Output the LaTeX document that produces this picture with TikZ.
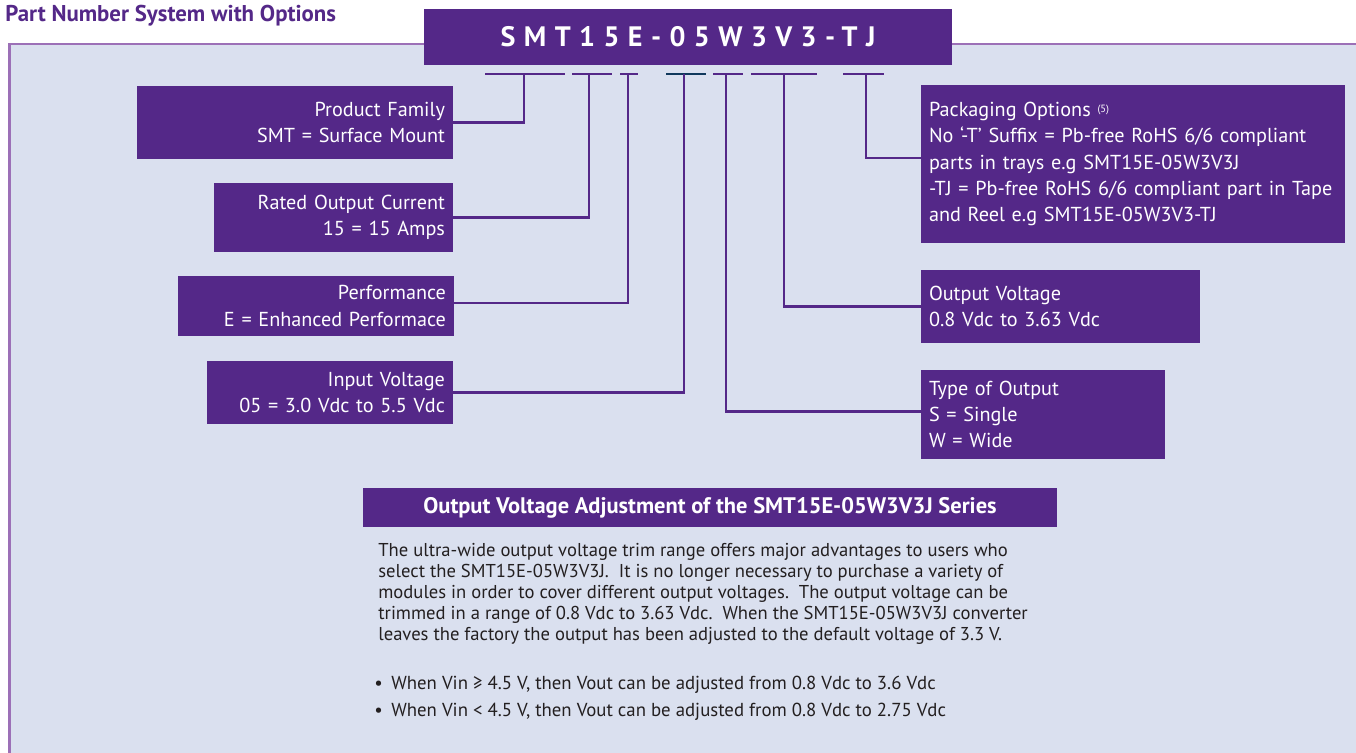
\documentclass[tikz,border=0pt]{standalone}
\usepackage{fontspec}
\setmainfont{PT Sans}
\newfontfamily\pnfont[LetterSpace=30]{PT Sans}

\definecolor{boxpurple}{RGB}{84,40,136}
\definecolor{panelfill}{RGB}{218,224,239}
\definecolor{panelline}{RGB}{156,112,183}
\definecolor{darkbar}{RGB}{16,56,92}
\definecolor{bodytext}{RGB}{35,31,32}

\begin{document}
\begin{tikzpicture}[
			x=0.02cm, y=-0.02cm,
			box/.style={fill=boxpurple, text=white, inner xsep=0.16cm, inner ysep=0pt, font=\fontsize{11.5}{15}\selectfont},
			lbox/.style={box, align=right},
			rbox/.style={box, align=left},
			link/.style={draw=boxpurple, line width=1.4pt},
			bar/.style={line width=1.6pt}
		]
		\useasboundingbox (0,0) rectangle (1356,753);

		% Panel
		\draw[draw=panelline, fill=panelfill, line width=1.7pt] (9.5,44) rectangle (1420,820);

		% Title
		\node[anchor=base west, inner sep=0pt, text=boxpurple, font=\fontsize{13}{15}\selectfont\bfseries] (title) at (5,22) {Part Number System with Options};

		% Part number
		\node[fill=boxpurple, text=white, minimum width=10.58cm, minimum height=1.12cm, font=\pnfont\fontsize{16}{18}\selectfont\bfseries] (pn) at (688,37) {SMT15E-05W3V3-TJ};

		% Bars under the part number
		\foreach \a/\b/\c in {485/565/boxpurple, 572/612/boxpurple, 620/638/boxpurple, 666/706/darkbar, 713/743/boxpurple, 751/817/boxpurple, 843/884/boxpurple}
			\draw[bar, draw=\c] (\a,74) -- (\b,74);
		\coordinate (t1) at (524,74);
		\coordinate (t2) at (589,74);
		\coordinate (t3) at (628,74);
		\coordinate (t4) at (684,74);
		\coordinate (t5) at (726,74);
		\coordinate (t6) at (784,74);
		\coordinate (t7) at (866,74);

		% Left boxes
		\node[lbox, text width=6.0cm, minimum height=1.46cm] (pf) at (295,122.5) {Product Family\\SMT = Surface Mount};
		\node[lbox, text width=4.46cm, minimum height=1.38cm] (roc) at (333.5,217.5) {Rated Output Current\\15 = 15 Amps};
		\node[lbox, text width=5.2cm, minimum height=1.2cm] (perf) at (316,306) {Performance\\E = Enhanced Performace};
		\node[lbox, text width=4.6cm, minimum height=1.26cm] (vin) at (330,392.5) {Input Voltage\\05 = 3.0 Vdc to 5.5 Vdc};

		% Right boxes
		\node[rbox, text width=8.16cm, minimum height=3.16cm] (pkg) at (1133,164) {Packaging Options {\fontsize{6}{6}\selectfont\raisebox{0.7ex}{(5)}}\\No ‘-T’ Suffix = Pb-free RoHS 6/6 compliant\\parts in trays e.g SMT15E-05W3V3J\\\mbox{-TJ = Pb-free RoHS 6/6 compliant part in Tape}\\and Reel e.g SMT15E-05W3V3-TJ};
		\node[rbox, text width=5.26cm, minimum height=1.46cm] (vout) at (1060.5,306.5) {Output Voltage\\0.8 Vdc to 3.63 Vdc};
		\node[rbox, text width=4.56cm, minimum height=1.78cm] (type) at (1043,414.5) {Type of Output\\S = Single\\W = Wide};

		% Links
		\draw[link] (pf.east) -| (t1);
		\draw[link] (roc.east) -| (t2);
		\draw[link] ([yshift=0.06cm]perf.east) -| (t3);
		\draw[link] (vin.east) -| (t4);
		\draw[link] ([yshift=0.06cm]type.west) -| (t5);
		\draw[link] (vout.west) -| (t6);
		\draw[link] ([yshift=0.12cm]pkg.west) -| (t7);

		% Output voltage adjustment
		\node[fill=boxpurple, text=white, minimum width=13.88cm, minimum height=0.78cm, font=\fontsize{12.8}{14}\selectfont\bfseries] (adj) at (710,507.5) {Output Voltage Adjustment of the SMT15E-05W3V3J Series};
		\node[anchor=north west, inner sep=0pt, align=left, text=bodytext, font=\fontsize{10.6}{11.9}\selectfont] (body) at (378,543) {The ultra-wide output voltage trim range offers major advantages to users who\\select the SMT15E-05W3V3J.\ \ It is no longer necessary to purchase a variety of\\modules in order to cover different output voltages.\ \ The output voltage can be\\trimmed in a range of 0.8 Vdc to 3.63 Vdc.\ \ When the SMT15E-05W3V3J converter\\leaves the factory the output has been adjusted to the default voltage of 3.3 V.};
		\node[anchor=north west, inner sep=0pt, align=left, text=bodytext, font=\fontsize{10.7}{15.3}\selectfont] (notes) at (374,676) {\textbullet\hspace{0.17cm}When Vin ≥ 4.5 V, then Vout can be adjusted from 0.8 Vdc to 3.6 Vdc\\\textbullet\hspace{0.17cm}When Vin < 4.5 V, then Vout can be adjusted from 0.8 Vdc to 2.75 Vdc};

	\end{tikzpicture}
\end{document}
